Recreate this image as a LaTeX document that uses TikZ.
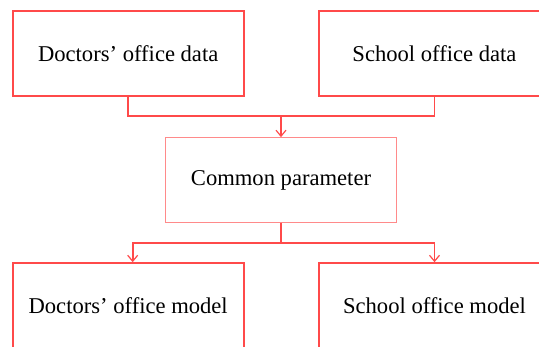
\documentclass[tikz,border=0pt]{standalone}
\usepackage{fontspec}
\setmainfont{Liberation Serif}
\usetikzlibrary{arrows.meta, positioning, calc}
\definecolor{cred}{HTML}{FF4A4A}
\definecolor{cpink}{HTML}{FF8A8A}
\tikzset{
  every picture/.style={line width=1.6pt},
  box/.style={draw=#1, fill=white, minimum width=231pt, minimum height=85pt, inner sep=0pt, font=\fontsize{22.6}{27}\selectfont},
  box/.default=cred,
  link/.style={draw=cred, line width=1.6pt},
  arrow/.style={link, -{Straight Barb[length=6pt, width=10pt, line width=1.2pt]}},
}
\begin{document}
\begin{tikzpicture}[x=1pt, y=-1pt]
  \useasboundingbox (0,0) rectangle (539,347);
  % data sources
  \node[box] (dd) at (128.2,53.5) {Doctors’ office data};
  \node[box] (sd) at (434.5,53.5) {School office data};
  % shared part
  \node[box=cpink, line width=1.1pt, minimum width=230.6pt, minimum height=84.6pt] (cp) at (281,180) {Common parameter};
  % models
  \node[box] (dm) at (128.2,305.5) {Doctors’ office model};
  \node[box] (sm) at (434.5,305.5) {School office model};
  \coordinate (j1) at (281,116);
  \coordinate (j2) at (281,243);
  \draw[link] (dd.south) |- (j1) -| (sd.south);
  \draw[arrow] (j1) -- (cp.north);
  \draw[link] (cp.south) -- (j2);
  \draw[arrow] (j2) -| ([xshift=4.5pt]dm.north);
  \draw[arrow] (j2) -| (sm.north);
\end{tikzpicture}
\end{document}
